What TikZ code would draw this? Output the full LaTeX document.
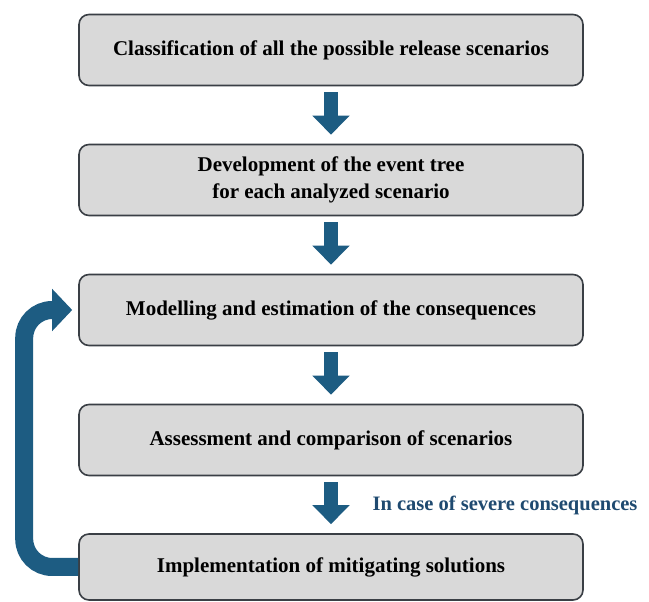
\documentclass[tikz,border=0pt]{standalone}
\usepackage{fontspec}
\setmainfont{Liberation Serif}
\usetikzlibrary{arrows.meta,positioning}
\definecolor{boxfill}{HTML}{D9D9D9}
\definecolor{boxline}{HTML}{3A3F45}
\definecolor{arrowblue}{HTML}{1D5C82}
\definecolor{noteblue}{HTML}{1F4A70}

\tikzset{
  stepbox/.style={draw=boxline, line width=1.6pt, fill=boxfill, rounded corners=10pt,
    minimum width=504pt, minimum height=71pt, align=center,
    font=\fontsize{21}{27}\selectfont\bfseries},
  downarrow/.style={draw=arrowblue, line width=14pt,
    -{Triangle[width=36pt,length=19pt]}, shorten <=6pt, shorten >=9pt},
  looparrow/.style={draw=arrowblue, line width=18pt, rounded corners=28pt,
    -{Triangle[width=41pt,length=20pt]}, shorten >=6pt},
}

\begin{document}
\begin{tikzpicture}[x=1pt,y=1pt]
  \useasboundingbox (0,0) rectangle (649,602);

  \node[stepbox] (scen) at (331,552) {Classification of all the possible release scenarios};
  \node[stepbox] (tree) at (331,422) {Development of the event tree\\for each analyzed scenario};
  \node[stepbox] (cons) at (331,292) {Modelling and estimation of the consequences};
  \node[stepbox] (comp) at (331,162) {Assessment and comparison of scenarios};
  \node[stepbox, minimum height=66pt] (miti) at (331,35) {Implementation of mitigating solutions};

  \draw[downarrow] (scen) -- (tree);
  \draw[downarrow] (tree) -- (cons);
  \draw[downarrow] (cons) -- (comp);
  \draw[downarrow] (comp) -- (miti);

  \node[anchor=west, text=noteblue, font=\fontsize{20.5}{24}\selectfont\bfseries] (note) at (369,97) {In case of severe consequences};

  % feedback from the last step back to the modelling
  \coordinate (back) at ([xshift=-54pt]cons.west);
  \draw[looparrow] (miti.west) -| (back) -- (cons.west);
\end{tikzpicture}
\end{document}
